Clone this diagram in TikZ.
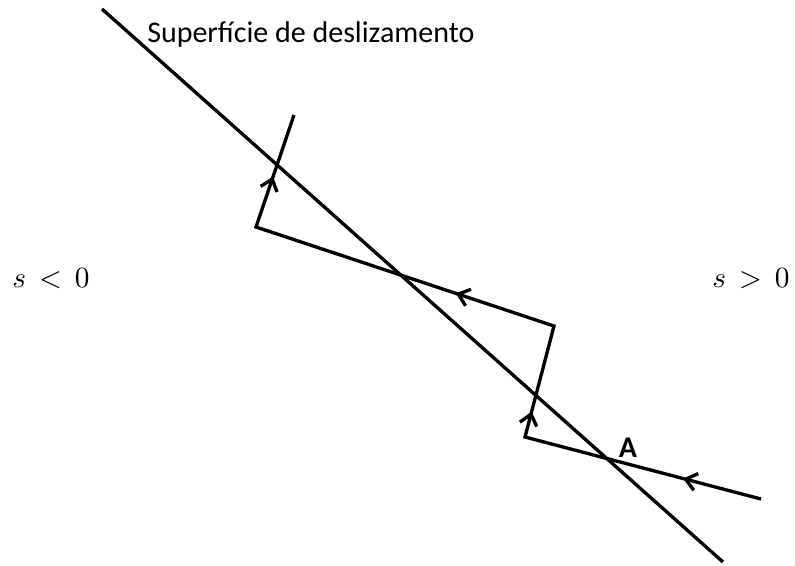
\documentclass[tikz,border=0pt]{standalone}
\usepackage[no-math]{fontspec}
\setmainfont{Carlito}
\usetikzlibrary{arrows.meta,decorations.markings}
\tikzset{
  line/.style={line width=2.5pt, black},
  traj/.style={line width=2.5pt, black, line join=miter},
  midarrow/.style={postaction={decorate}, decoration={markings,
    mark=at position #1 with {\arrow[line width=2.5pt]{Straight Barb[length=8pt,width=13pt]}}}},
  lbl/.style={inner sep=0pt, font=\fontsize{22.5}{26}\selectfont},
  mathlbl/.style={inner sep=0pt},
}
\newcommand{\bigmath}[1]{\scalebox{2.2}{$#1$}}
\begin{document}
\begin{tikzpicture}[x=0.75pt, y=-0.75pt]
\useasboundingbox (0,0) rectangle (795,565);
% sliding surface
\coordinate (S1) at (102,9);
\coordinate (S2) at (723,562);
\draw[line] (S1) -- (S2);
% trajectory
\coordinate (T0) at (761,499);
\coordinate (C1) at (525,437);
\coordinate (C2) at (554,326);
\coordinate (C3) at (256,227);
\coordinate (TE) at (294,115);
\draw[traj] (T0) -- (C1) -- (C2) -- (C3) -- (TE);
\path[midarrow=0.33] (T0) -- (C1);
\path[midarrow=0.23] (C1) -- (C2);
\path[midarrow=0.33] (C2) -- (C3);
\path[midarrow=0.45] (C3) -- (TE);
% labels
\node[lbl, anchor=base west] (title) at (147,42) {Superfície de deslizamento};
\node[lbl, anchor=base, font=\fontsize{22.5}{26}\selectfont\bfseries] (A) at (628,457) {A};
\node[mathlbl, anchor=base west] (neg) at (12,287) {\bigmath{s\mathrel{\,<\,}0}};
\node[mathlbl, anchor=base west] (pos) at (712,287) {\bigmath{s\mathrel{\,>\,}0}};
\end{tikzpicture}
\end{document}
